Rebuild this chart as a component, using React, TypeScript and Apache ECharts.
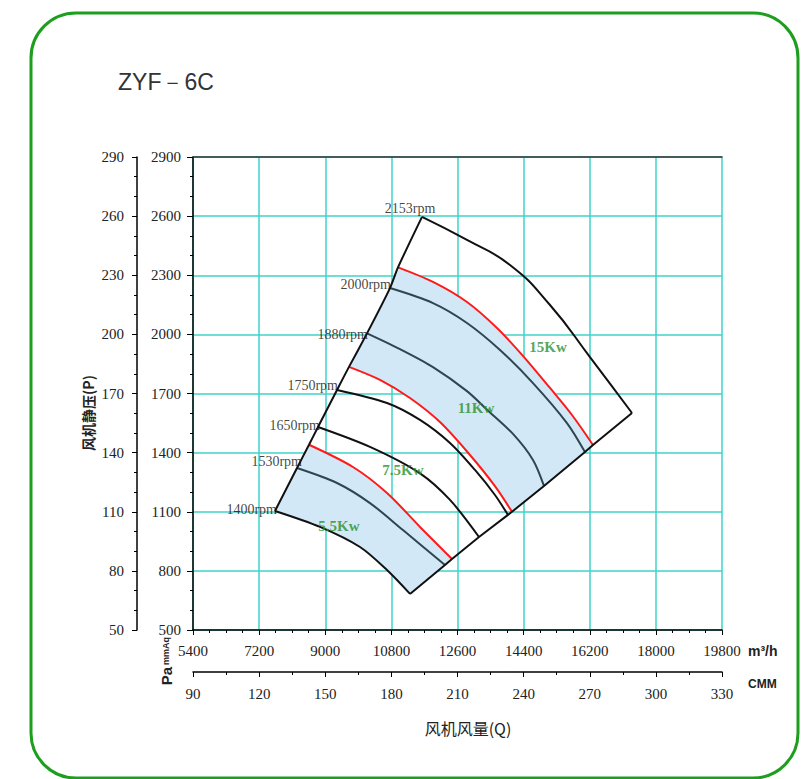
import React, { useEffect, useRef } from "react";
import * as echarts from "echarts";

// Axis ranges / ticks
const flowMin = 5400, flowMax = 19800, flowStep = 1800;      // m³/h
const cmmMin = 90, cmmMax = 330, cmmStep = 30;               // CMM
const paMin = 500, paMax = 2900, paStep = 300;               // Pa
const mmMin = 50, mmMax = 290, mmStep = 30;                  // mmAq

// Fan curves [Q m³/h, P Pa]
const rpm1400 = [[7632, 1104], [8857, 1023], [9946, 921], [10681, 804], [11307, 683]];
const rpm1530 = [[8231, 1322], [9320, 1246], [10218, 1144], [11116, 1007], [12259, 830]];
const kw75 = [[8558, 1440], [9755, 1327], [10681, 1195], [11579, 1023], [12123, 921], [12450, 860]];
const rpm1650 = [[8803, 1530], [10218, 1429], [11579, 1295], [12396, 1160], [13185, 972]];
const rpm1750 = [[9320, 1718], [10681, 1652], [11579, 1566], [12396, 1449], [13076, 1312], [13620, 1185], [13974, 1084]];
const kw11 = [[9646, 1835], [10490, 1769], [11307, 1677], [12123, 1555], [12940, 1388], [13620, 1230], [14083, 1100]];
const rpm1880 = [[10136, 2005], [11035, 1925], [11933, 1834], [12858, 1712], [13403, 1618], [14110, 1495], [14655, 1363], [14954, 1231]];
const rpm2000 = [[10762, 2235], [11933, 2159], [12858, 2058], [13757, 1921], [14655, 1753], [15580, 1550], [16070, 1403]];
const kw15 = [[10980, 2340], [11933, 2266], [12858, 2164], [13675, 2032], [14410, 1885], [15118, 1728], [15716, 1591], [16288, 1439]];
const rpm2153 = [[11634, 2596], [12858, 2479], [14029, 2352], [15118, 2149], [16206, 1885], [17350, 1601]];

const rpmNames = ["1400rpm", "1530rpm", "1650rpm", "1750rpm", "1880rpm", "2000rpm", "2153rpm"];
const powerNames = ["5.5Kw", "7.5Kw", "11Kw", "15Kw"];
const powerAt = [[9374, 1028], [11116, 1312], [13103, 1626], [15063, 1936]];

export default function App() {
  const ref = useRef<HTMLDivElement>(null);
  useEffect(() => {
    if (!ref.current) return;
    const chart = echarts.init(ref.current, null, { renderer: "svg" });

    const all = [rpm1400, rpm1530, kw75, rpm1650, rpm1750, kw11, rpm1880, rpm2000, kw15, rpm2153];
    const rpmCurves = [rpm1400, rpm1530, rpm1650, rpm1750, rpm1880, rpm2000, rpm2153];
    const leftEdge = all.map((c) => c[0]);
    const rightEdge = all.map((c) => c[c.length - 1]);

    const regionA = [...rpm1400, rpm1530[rpm1530.length - 1], ...[...kw75].reverse(), rpm1530[0]];
    const regionB = [
      ...kw11,
      rpm1880[rpm1880.length - 1],
      rpm2000[rpm2000.length - 1],
      ...[...kw15].reverse(),
      rpm2000[0],
      rpm1880[0],
    ];
    const regions = [regionA, regionB];

    const black = "#111";
    const slate = "#2e4650";
    const red = "#ff1a1a";
    const serif = "Liberation Serif";
    const grid = "#3fd3c9";
    const plain = (v: number) => String(v);

    const lineSeries = (data: number[][], color: string, smooth: boolean | number = 0.3) => ({
      type: "line",
      data,
      smooth,
      showSymbol: false,
      symbol: "none",
      silent: true,
      lineStyle: { color, width: 2 },
      z: 3,
    });

    const rpmLabelOffsets = [
      { position: "left", offset: [2, -1] },
      { position: "left", offset: [5, -6] },
      { position: "left", offset: [2, -2] },
      { position: "left", offset: [1, -4] },
      { position: "left", offset: [1, 1] },
      { position: "left", offset: [1, -4] },
      { position: "top", offset: [-12, -1] },
    ];

    const tickFont = { color: "#222", fontFamily: serif, fontSize: 15, formatter: plain };

    const option: any = {
      animation: false,
      grid: { left: 193, top: 157, right: 84, bottom: 149, containLabel: false },
      xAxis: [
        {
          type: "value",
          min: flowMin,
          max: flowMax,
          interval: flowStep,
          position: "bottom",
          axisLine: { show: true, onZero: false, lineStyle: { color: "#000", width: 1.5 } },
          axisTick: { show: true, length: 5, lineStyle: { color: "#000" } },
          minorTick: { show: true, splitNumber: 4, length: 3, lineStyle: { color: "#000" } },
          splitLine: { show: true, lineStyle: { color: grid, width: 1.5 } },
          axisLabel: { margin: 13, ...tickFont },
        },
        {
          type: "value",
          min: cmmMin,
          max: cmmMax,
          interval: cmmStep,
          position: "bottom",
          offset: 42,
          axisLine: { show: true, onZero: false, lineStyle: { color: "#000", width: 1.5 } },
          axisTick: { show: true, length: 5, lineStyle: { color: "#000" } },
          minorTick: { show: true, splitNumber: 2, length: 3, lineStyle: { color: "#000" } },
          splitLine: { show: false },
          axisLabel: { margin: 14, ...tickFont },
        },
        {
          type: "value",
          min: flowMin,
          max: flowMax,
          interval: flowStep,
          position: "top",
          axisLine: { show: true, onZero: false, lineStyle: { color: "#333", width: 1.5 } },
          axisTick: { show: false },
          axisLabel: { show: false },
          splitLine: { show: false },
        },
      ],
      yAxis: [
        {
          type: "value",
          min: paMin,
          max: paMax,
          interval: paStep,
          position: "left",
          axisLine: { show: true, onZero: false, lineStyle: { color: "#000", width: 1.5 } },
          axisTick: { show: true, length: 6, lineStyle: { color: "#000" } },
          minorTick: { show: true, splitNumber: 3, length: 3, lineStyle: { color: "#000" } },
          splitLine: { show: true, lineStyle: { color: grid, width: 1.5 } },
          axisLabel: { margin: 12, ...tickFont },
        },
        {
          type: "value",
          min: mmMin,
          max: mmMax,
          interval: mmStep,
          position: "left",
          offset: 56,
          axisLine: { show: true, onZero: false, lineStyle: { color: "#000", width: 1.5 } },
          axisTick: { show: true, length: 5, lineStyle: { color: "#000" } },
          minorTick: { show: true, splitNumber: 3, length: 3, lineStyle: { color: "#000" } },
          splitLine: { show: false },
          axisLabel: { margin: 13, ...tickFont },
        },
      ],
      series: [
        {
          type: "custom",
          coordinateSystem: "cartesian2d",
          silent: true,
          z: 1,
          data: regions.map((r) => r[0]),
          renderItem: (params: any, api: any) => {
            const pts = regions[params.dataIndex].map((p) => api.coord(p));
            return { type: "polygon", shape: { points: pts }, style: { fill: "#d2e8f7", stroke: "none" } };
          },
        },
        lineSeries(rpm1400, black),
        lineSeries(rpm1530, slate),
        lineSeries(kw75, red),
        lineSeries(rpm1650, black),
        lineSeries(rpm1750, black),
        lineSeries(kw11, red),
        lineSeries(rpm1880, slate),
        lineSeries(rpm2000, slate),
        lineSeries(kw15, red),
        lineSeries(rpm2153, black, 0.5),
        lineSeries(leftEdge, black, 0.2),
        lineSeries(rightEdge, black, false),
        {
          type: "scatter",
          symbolSize: 0,
          silent: true,
          z: 4,
          data: rpmCurves.map((c, i) => ({
            name: rpmNames[i],
            value: c[0],
            label: rpmLabelOffsets[i],
          })),
          label: {
            show: true,
            formatter: "{b}",
            distance: 0,
            color: "#111",
            fontFamily: serif,
            fontSize: 14,
          },
        },
        {
          type: "scatter",
          symbolSize: 0,
          silent: true,
          z: 4,
          data: powerAt.map((p, i) => ({ name: powerNames[i], value: p })),
          label: {
            show: true,
            position: "inside",
            formatter: "{b}",
            color: "#2a8f2a",
            fontFamily: serif,
            fontWeight: "bold",
            fontSize: 15,
          },
        },
      ],
      graphic: [
        {
          type: "rect",
          shape: { x: 31, y: 13, width: 767, height: 765, r: 45 },
          style: { fill: "none", stroke: "#1e9e1e", lineWidth: 3 },
          silent: true,
        },
        {
          type: "text",
          x: 118,
          y: 82,
          style: { text: "ZYF－6C", fontFamily: "Liberation Sans", fontSize: 23, fill: "#333", textVerticalAlign: "middle" },
        },
        {
          type: "text",
          x: 88,
          y: 413,
          rotation: Math.PI / 2,
          style: {
            text: "风机静压(P)",
            fontFamily: "Noto Sans CJK SC",
            fontWeight: "bold",
            fontSize: 14,
            fill: "#222",
            textAlign: "center",
            textVerticalAlign: "middle",
          },
        },
        {
          type: "text",
          x: 468,
          y: 728,
          style: {
            text: "风机风量(Q)",
            fontFamily: "Noto Sans CJK SC",
            fontSize: 16,
            fill: "#222",
            textAlign: "center",
            textVerticalAlign: "middle",
          },
        },
        {
          type: "text",
          x: 166,
          y: 676,
          rotation: Math.PI / 2,
          style: {
            text: "Pa",
            fontFamily: "Liberation Sans",
            fontWeight: "bold",
            fontSize: 15,
            fill: "#222",
            textAlign: "center",
            textVerticalAlign: "middle",
          },
        },
        {
          type: "text",
          x: 166,
          y: 651,
          rotation: Math.PI / 2,
          style: {
            text: "mmAq",
            fontFamily: "Liberation Sans",
            fontWeight: "bold",
            fontSize: 9,
            fill: "#222",
            textAlign: "center",
            textVerticalAlign: "middle",
          },
        },
        {
          type: "text",
          x: 748,
          y: 651,
          style: {
            text: "m³/h",
            fontFamily: "Liberation Sans",
            fontWeight: "bold",
            fontSize: 14,
            fill: "#222",
            textVerticalAlign: "middle",
          },
        },
        {
          type: "text",
          x: 748,
          y: 684,
          style: {
            text: "CMM",
            fontFamily: "Liberation Sans",
            fontWeight: "bold",
            fontSize: 12,
            fill: "#222",
            textVerticalAlign: "middle",
          },
        },
      ],
    };

    chart.setOption(option);
    return () => chart.dispose();
  }, []);

  return (
    <div
      ref={ref}
      style={{ position: "absolute", left: 0, top: 0, width: 806, height: 779, background: "#fff" }}
    />
  );
}
